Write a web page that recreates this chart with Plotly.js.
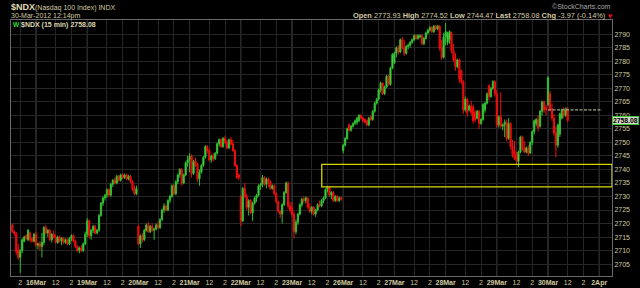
<!DOCTYPE html>
<html><head><meta charset="utf-8">
<script src="https://cdn.plot.ly/plotly-3.0.1.min.js"></script>
<style>html,body{margin:0;padding:0;background:#000;}#chart{width:640px;height:288px;}</style>
</head><body><div id="chart"></div>
<script>
// ---- data: 15-minute OHLC bars, one array per session: [open, high, low, close]
const sessions = ['15Mar','16Mar','19Mar','20Mar','21Mar','22Mar','23Mar','26Mar','27Mar','28Mar','29Mar','30Mar'];
const firstSlot = [14,0,0,0,0,0,0,0,0,0,0,0];
const barsPerSession = 26;

const bars15Mar = [[2719.5,2720,2716.5,2717],[2717,2717.5,2715.5,2716.3],[2716.3,2716.8,2708.5,2709.5],[2710.5,2712.5,2706.5,2707.5],[2707.5,2710.5,2701.7,2710],[2710,2714.5,2709,2714],[2713.5,2715.5,2713,2715],[2715.5,2716,2714,2714.5],[2714,2718,2713.5,2717.5],[2716.5,2717,2713,2714],[2714.5,2715,2713,2713.5],[2713.5,2716.5,2713,2716]];
const bars16Mar = [[2716,2717,2711.5,2712],[2712,2713,2710.5,2712.5],[2712.5,2713.5,2710,2711.5],[2711.5,2716.5,2707.5,2713],[2713,2719,2712,2718.5],[2718.5,2719.5,2716,2716.5],[2716.5,2718,2715,2717.5],[2717.5,2718,2713.5,2714],[2714,2716.5,2713,2716],[2716,2717.5,2714.5,2715],[2715,2716,2712.5,2713],[2713,2715.5,2712.5,2715],[2715,2715.5,2713,2713.5],[2713.5,2715,2712,2714.5],[2714.5,2715,2712.5,2713],[2713,2714.5,2712.5,2714],[2714,2714.5,2712,2712.5],[2712.5,2715,2712,2714.5],[2714.5,2716,2713.5,2715.5],[2715.5,2716,2713,2713.5],[2713.5,2714,2711,2711.5],[2711.5,2712,2709.5,2710],[2710,2711.5,2709,2711],[2711,2712,2709.5,2710],[2710,2713,2709.5,2712.5],[2712.5,2717,2712,2716]];
const bars19Mar = [[2716,2722,2715,2721],[2721,2721.5,2714.5,2715.5],[2715.5,2718,2714,2717.5],[2717.5,2719.5,2716.5,2719],[2719,2719.5,2716,2716.5],[2716.5,2718,2716,2717.5],[2717.5,2723.5,2717,2723],[2723,2728,2722.5,2727.5],[2727.5,2730,2726.5,2729.5],[2729.5,2731,2728.5,2730.5],[2730.5,2733,2729.5,2732.5],[2732.5,2733,2730,2730.5],[2730.5,2735,2730,2734.5],[2734.5,2736.5,2733.5,2736],[2736,2737,2734.5,2735],[2735,2738,2734.5,2737.5],[2737.5,2738,2735.5,2736],[2736,2738.5,2735.5,2738],[2738,2738.5,2736.5,2737],[2737,2738.5,2736.5,2738],[2738,2738.5,2736,2736.5],[2736.5,2738,2736,2737.5],[2737.5,2738,2735,2735.5],[2735.5,2736,2732,2732.5],[2732.5,2734,2730.5,2731],[2731,2734,2730.5,2733]];
const bars20Mar = [[2719,2719.5,2712,2712.5],[2712.5,2716,2711,2715.5],[2715.5,2716.5,2713,2714],[2714,2718,2713.5,2717.5],[2717.5,2720,2717,2719.5],[2719.5,2720.5,2716.5,2717],[2717,2719.5,2716.5,2719],[2719,2720,2717,2717.5],[2717.5,2718.5,2714,2718],[2718,2720,2717.5,2719.5],[2719.5,2721,2718,2718.5],[2718.5,2722,2718,2721.5],[2721.5,2725.5,2721,2725],[2725,2727.5,2724,2726.5],[2726.5,2727,2724.5,2725],[2725,2729,2724.5,2728.5],[2728.5,2730.5,2727.5,2730],[2730,2734.5,2729.5,2734],[2734,2734.5,2730.5,2731],[2731,2736,2730.5,2735.5],[2735.5,2738.5,2734.5,2738],[2738,2740.5,2737,2740],[2740,2740.5,2734,2735],[2735,2738.5,2734.5,2738],[2738,2743,2737.5,2742.5],[2742.5,2745,2741,2743.5]];
const bars21Mar = [[2743.5,2746,2739,2745],[2745,2745.5,2737,2738.5],[2738.5,2743.5,2738,2743],[2743,2744.5,2741,2742],[2742,2742.5,2735.5,2736.5],[2736.5,2740,2734,2739],[2739,2742,2738.5,2741.5],[2741.5,2745,2741,2744.5],[2744.5,2749,2744,2748.5],[2748.5,2749,2746,2747],[2747,2747.5,2743,2743.5],[2743.5,2745.5,2742.5,2745],[2745,2746,2743,2744],[2744,2746.5,2743.5,2746],[2746,2750,2745.5,2749.5],[2749.5,2751.5,2748.5,2751],[2751,2751.5,2748,2748.5],[2748.5,2752,2748,2751.5],[2751.5,2752.5,2749.5,2750],[2750,2751,2747.5,2748],[2748,2751.5,2747.5,2751],[2751,2752,2749,2749.5],[2749.5,2751,2746.5,2747],[2747,2747.5,2741,2741.5],[2741.5,2742,2736.5,2737],[2738,2738.5,2736,2737]];
const bars22Mar = [[2730,2730.5,2719,2721],[2721,2733.5,2720.5,2733],[2733,2735,2729.5,2730],[2730,2731,2725,2726],[2726,2729,2723,2728.5],[2728.5,2729,2723.5,2724],[2724,2728,2721,2727.5],[2727.5,2730,2727,2729.5],[2729.5,2731,2728,2730.5],[2730.5,2734.5,2730,2734],[2734,2735,2732.5,2734.5],[2734.5,2738,2733.5,2737],[2737,2737.5,2734,2734.5],[2734.5,2737,2733,2736.5],[2736.5,2737,2733.5,2735.5],[2735.5,2736,2732.5,2733],[2733,2734.5,2732.5,2734],[2734,2734.5,2730.5,2731],[2731,2731.5,2727.5,2728],[2728,2728.5,2724,2724.5],[2724.5,2725,2722,2723.5],[2723.5,2727.5,2720,2727],[2727,2732,2726.5,2731.5],[2731.5,2735.5,2731,2735],[2735,2735.5,2725.5,2726.5],[2726.5,2728,2724,2725]];
const bars23Mar = [[2726,2728,2722.5,2723.5],[2723.5,2724.5,2714.5,2717],[2717,2721.5,2716,2720.5],[2720.5,2724,2719.5,2723.5],[2723.5,2727.5,2723,2727],[2727,2729.5,2726,2729],[2729,2730,2727.5,2728.5],[2728.5,2730,2727.5,2729.5],[2729.5,2729.5,2725.5,2726],[2726,2727.5,2724,2724.5],[2724.5,2726.5,2723.5,2726],[2726,2726.5,2723,2723.5],[2723.5,2725.5,2722.5,2725],[2725,2727.5,2724.5,2727],[2727,2728.5,2726,2726.5],[2726.5,2729,2726,2728.5],[2728.5,2730,2727.5,2729.5],[2729.5,2733,2729,2732.5],[2732.5,2734,2731.5,2733.5],[2733.5,2734,2730,2730.5],[2730.5,2732,2729,2731.5],[2731.5,2732,2728,2728.5],[2728.5,2730.5,2728,2730],[2730,2730.5,2728,2728.5],[2728.5,2730,2728,2729.5],[2729.5,2730,2728.5,2729]];
const bars26Mar = [[2747,2749.5,2746,2749],[2749,2752,2748.5,2751.5],[2751.5,2755.5,2751,2755],[2756.5,2757,2754,2754.5],[2754.5,2756.5,2754,2756],[2756,2757.5,2755.5,2757],[2757,2758.5,2756.5,2758],[2757.5,2759.5,2756.5,2759],[2758,2760.5,2757.5,2760],[2760,2760.5,2758.5,2759],[2759,2759.5,2757.5,2758],[2758.5,2759,2757,2757.5],[2758,2758.5,2756,2756.5],[2756.5,2759.5,2756,2759],[2759.5,2760,2758,2758.5],[2758.5,2762,2758,2761.5],[2761.5,2765,2761,2764.5],[2764.5,2766.5,2764,2766],[2766,2770,2765.5,2769.5],[2769.5,2772.5,2768.5,2772],[2772,2772,2767.5,2768],[2768,2771,2767.5,2770.5],[2770.5,2775,2770,2774.5],[2774.5,2775,2771,2771.5],[2771.5,2778,2771,2777.5],[2777.5,2783,2777,2782.5]];
const bars27Mar = [[2779.5,2783.5,2779,2783],[2783,2785.5,2781.5,2785],[2785,2786,2782.5,2783.5],[2783.5,2788.5,2783,2788],[2788,2789,2784.5,2785],[2785,2788,2782,2783],[2783,2786,2782.5,2785.5],[2785.5,2786.5,2784.5,2786],[2786,2787.5,2785,2787],[2787,2788.5,2786.5,2788],[2788,2790,2787.5,2789.5],[2789.5,2790,2788,2788.5],[2788.5,2790,2788,2789.5],[2789,2790,2788.5,2789.5],[2789.5,2790,2786,2786.5],[2786.5,2789,2786,2788.5],[2788.5,2791,2788,2790.5],[2790.5,2792,2790,2791.5],[2791.5,2793,2791,2792.5],[2792.5,2793,2790.5,2791],[2791,2793.5,2790.5,2793],[2793,2793.5,2791.5,2792],[2792,2793.5,2791.5,2793],[2793,2793.5,2784,2785],[2785,2788,2780.5,2781.5],[2781.5,2790.5,2781,2789]];
const bars28Mar = [[2789,2794.2,2786,2791],[2787,2791,2786,2790.5],[2788,2791.5,2786.5,2791],[2790.5,2791,2783,2784],[2784,2786.5,2780,2780.5],[2781,2783,2776.5,2778],[2778,2781,2777.5,2780.5],[2780.5,2781,2772,2773.5],[2776.5,2777,2771.5,2772.5],[2772.5,2773,2760.5,2762],[2762,2767,2761.5,2766],[2766,2766.5,2759.5,2761],[2762,2764,2761.5,2763.5],[2763.5,2765.5,2760,2761],[2763,2764,2757,2758],[2761,2762,2757.5,2758.5],[2759,2762,2758.5,2761.5],[2761.5,2762,2755,2757],[2757,2759,2756.5,2758.5],[2758.5,2764.5,2758,2764],[2762,2765,2761,2764.5],[2764.5,2768.5,2764,2768],[2771,2771.5,2765.5,2767],[2767,2770.5,2766.5,2770],[2770,2773,2769.5,2772.5],[2772.5,2773,2767,2768]];
const bars29Mar = [[2768,2769.5,2755.5,2756.5],[2756.5,2760,2755.5,2759.5],[2759.5,2768.5,2755.5,2756],[2756,2757,2754.5,2756.5],[2756.5,2758.5,2752,2757.5],[2757.5,2758.5,2750.5,2751.5],[2751.5,2759,2751,2757],[2757,2757.5,2747.5,2748.5],[2748.5,2751,2744.5,2745.5],[2747,2750.5,2743.5,2744],[2745.5,2746.5,2742,2743],[2743,2747,2741,2746.5],[2746.5,2752.5,2746,2752],[2752,2752.5,2747,2748],[2748,2750.5,2746,2746.5],[2746.5,2748.5,2746,2748],[2748,2749,2745,2746],[2746,2750.5,2746,2750],[2750,2754.5,2749,2754],[2754,2758.5,2753,2758],[2757,2759,2756,2758.5],[2758.5,2760,2754,2755.5],[2756,2762,2755.5,2761.5],[2761.5,2765.5,2760,2765],[2765,2765.5,2761,2762],[2763,2764,2760,2762.05]];
const bars30Mar = [[2764,2774.52,2763.5,2773.93],[2768,2769,2761.5,2762.5],[2762.5,2764.5,2758,2759],[2759,2760.5,2752.5,2753.5],[2753.5,2756,2744.47,2749],[2749,2757,2748,2756.5],[2753,2761,2752,2760.5],[2759,2762.5,2758.5,2762],[2762,2763,2759,2760],[2760,2763,2759.5,2762.5],[2762.5,2763,2757.5,2758.08]];
const sessionBars = [bars15Mar,bars16Mar,bars19Mar,bars20Mar,bars21Mar,bars22Mar,bars23Mar,bars26Mar,bars27Mar,bars28Mar,bars29Mar,bars30Mar];

const dayLabels = ['16Mar','19Mar','20Mar','21Mar','22Mar','23Mar','26Mar','27Mar','28Mar','29Mar','30Mar','2Apr'];
const noonLabel = '12', twoLabel = '2';
const yTickValues = [2705,2710,2715,2720,2725,2730,2735,2740,2745,2750,2755,2760,2765,2770,2775,2780,2785,2790];
const prevClose = 2762.05;
const lastPrice = 2758.08;
const zone = [2733.6, 2741.9];   // yellow support box, price bounds

// ---- build series
const X=[],O=[],H=[],L=[],C=[];
sessionBars.forEach((bars,s)=>{
  bars.forEach((b,j)=>{
    X.push((s-1)*barsPerSession + firstSlot[s] + j);
    O.push(b[0]);H.push(b[1]);L.push(b[2]);C.push(b[3]);
  });
});

const xRange = [-12.7, 292.5];
const tickvals=[], ticktext=[];
for (let d=-1; d<dayLabels.length; d++){
  const base = d*barsPerSession;
  if (d>=0){ tickvals.push(base); ticktext.push('<b>'+dayLabels[d]+'</b>'); }
  if (base+10>xRange[0] && base+10<xRange[1]){ tickvals.push(base+10); ticktext.push(noonLabel); }
  if (base+18>xRange[0] && base+18<xRange[1]){ tickvals.push(base+18); ticktext.push(twoLabel); }
}

const tan = '#d2caa0';
const FONT = 'Liberation Sans, Arial, sans-serif';
const L0=11, R0=612, T0=20, B0=276;
const px = v => (v-L0)/(R0-L0);
const py = v => (B0-v)/(B0-T0);

const shapes = [];
dayLabels.forEach((d,i)=>{
  shapes.push({type:'line', xref:'x', yref:'paper', x0:i*barsPerSession, x1:i*barsPerSession, y0:0, y1:1,
    line:{color:'#4a4a4a', width:1}, layer:'between'});
});
shapes.push({type:'rect', xref:'x', yref:'y', x0:145.1, x1:xRange[1], y0:zone[0], y1:zone[1],
  line:{color:'#d6d600', width:1.3}, fillcolor:'rgba(0,0,0,0)', layer:'above'});
shapes.push({type:'line', xref:'x', yref:'y', x0:260, x1:287.5, y0:prevClose, y1:prevClose,
  line:{color:'#a8a48c', width:1.2, dash:'3px,1.5px'}, layer:'above'});

const ann = (text,x,y,opts)=>Object.assign({text, x, y, xref:'paper', yref:'paper', showarrow:false,
  xanchor:'left', yanchor:'middle', borderpad:0, font:{family:FONT, size:7, color:tan}}, opts||{});

const annotations = [
  ann('<b>$NDX</b>', px(10), py(7), {font:{family:FONT,size:9,color:'#e2dcb4'}}),
  ann('(Nasdaq 100 Index) INDX', px(34), py(7.5)),
  ann('30-Mar-2012 12:14pm', px(10), py(15.5)),
  ann('<b>Open</b> 2773.93 <b>High</b> 2774.52 <b>Low</b> 2744.47 <b>Last</b> 2758.08 <b>Chg</b> -3.97 (-0.14%)', px(605.5), py(15.5), {xanchor:'right', font:{family:FONT,size:7.4,color:tan}}),
  ann('▼', px(606.5), py(16), {font:{family:'DejaVu Sans',size:5.5,color:'#ee1111'}}),
  ann('©StockCharts.com', px(612), py(6.5), {xanchor:'right', font:{family:FONT,size:7,color:'#a8a8a8'}}),
  ann('<b>W</b>', px(12), py(24), {font:{family:FONT,size:6.5,color:'#33dd33'}}),
  ann('<b>$NDX (15 min) 2758.08</b>', px(20), py(24.5), {font:{family:FONT,size:7,color:'#dcd6b0'}}),
  {text:'<b>'+lastPrice.toFixed(2)+'</b>', x:1, xref:'paper', xanchor:'left', xshift:0, y:lastPrice, yref:'y', yanchor:'middle',
   showarrow:false, bgcolor:'#d6d6c6', bordercolor:'#33cc33', borderwidth:1, borderpad:0,
   font:{family:FONT,size:6.8,color:'#000'}}
];

const trace = {
  type:'candlestick', x:X, open:O, high:H, low:L, close:C,
  increasing:{line:{color:'#2fbf2f', width:1}, fillcolor:'#6ee06e'},
  decreasing:{line:{color:'#f01010', width:1}, fillcolor:'#dd0000'},
  whiskerwidth:0, hoverinfo:'skip', showlegend:false
};

const layout = {
  width:640, height:288,
  margin:{l:L0, r:640-R0, t:T0, b:288-B0, pad:0},
  paper_bgcolor:'#000', plot_bgcolor:'#000',
  showlegend:false, boxgap:0.15,
  xaxis:{range:xRange, tickmode:'array', tickvals, ticktext, ticks:'',
    tickfont:{family:FONT,size:7,color:tan}, showgrid:true, gridcolor:'#262626', gridwidth:1,
    zeroline:false, showline:true, linecolor:'#6a6a6a', linewidth:1, mirror:true,
    rangeslider:{visible:false}, fixedrange:true},
  yaxis:{range:[2700.6,2795.3], side:'right', tickmode:'array', tickvals:yTickValues,
    ticktext:yTickValues.map(String), ticks:'', tickfont:{family:FONT,size:7,color:tan},
    showgrid:true, gridcolor:'#262626', gridwidth:1, zeroline:false,
    showline:true, linecolor:'#6a6a6a', linewidth:1, mirror:true, fixedrange:true},
  shapes, annotations
};

Plotly.newPlot('chart',[trace],layout,{displayModeBar:false, staticPlot:true});
</script></body></html>
